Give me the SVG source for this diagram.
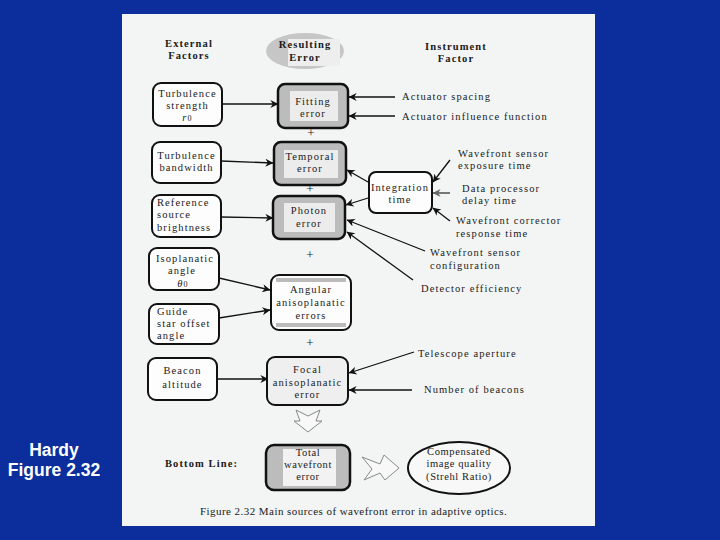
<svg xmlns="http://www.w3.org/2000/svg" width="720" height="540" viewBox="0 0 720 540">
<defs>
<marker id="ah" viewBox="0 0 10 10" refX="9.5" refY="5" markerWidth="9" markerHeight="8" markerUnits="userSpaceOnUse" orient="auto">
<path d="M0,0 L10,5 L0,10 L3,5 Z" fill="#111"/>
</marker>
<marker id="ahg" viewBox="0 0 10 10" refX="9.5" refY="5" markerWidth="9" markerHeight="8" markerUnits="userSpaceOnUse" orient="auto">
<path d="M0,0 L10,5 L0,10 L3,5 Z" fill="#666"/>
</marker>
</defs>
<style>
text{font-family:"Liberation Serif","Times New Roman",serif;fill:#1a1a1a;font-size:10.5px;letter-spacing:1.1px}
.h{font-weight:bold;font-size:10.5px;letter-spacing:1.1px}
.m{text-anchor:middle}
.box{fill:#fdfdfd;stroke:#111;stroke-width:2}
.gbox{fill:#bcbcbc;stroke:#111;stroke-width:2.5}
.inner{fill:#ececec}
.c{stroke:#111;stroke-width:1.3;fill:none;marker-end:url(#ah)}
.hollow{fill:#f8f8f8;stroke:#888;stroke-width:1}
.plus{font-size:13px;letter-spacing:0}
.side{font-family:"Liberation Sans",Arial,sans-serif;font-weight:bold;font-size:17.5px;fill:#fff;letter-spacing:0}
</style>
<rect x="0" y="0" width="720" height="540" fill="#0b2e9c"/>
<rect x="122" y="14" width="473" height="512" fill="#f3f5f5"/>
<g id="side-label">
<text x="54" y="456" class="m side">Hardy</text>
<text x="54" y="476" class="m side">Figure 2.32</text>
</g>
<g id="headers">
<text x="189" y="47" class="h m">External</text>
<text x="189" y="59" class="h m">Factors</text>
<text x="456" y="50" class="h m">Instrument</text>
<text x="456" y="62" class="h m">Factor</text>
</g>
<g id="resulting-error">
<ellipse cx="305" cy="51" rx="39" ry="18" fill="#c6c6c6"/>
<rect x="288" y="39" width="52" height="27" fill="#eeeeee"/>
<text x="305" y="48" class="h m">Resulting</text>
<text x="305" y="61" class="h m">Error</text>
</g>
<g id="connectors">
<line class="c" x1="222" y1="104" x2="278" y2="104"/>
<line class="c" x1="221" y1="161" x2="273" y2="163"/>
<line class="c" x1="221" y1="217" x2="273" y2="218"/>
<line class="c" x1="219" y1="278" x2="270" y2="290"/>
<line class="c" x1="219" y1="318" x2="270" y2="310"/>
<line class="c" x1="217" y1="379" x2="268" y2="379"/>
<line class="c" x1="395" y1="97" x2="349" y2="97"/>
<line class="c" x1="395" y1="116" x2="349" y2="116"/>
<line class="c" x1="450" y1="160" x2="433" y2="182"/>
<line x1="450" y1="193" x2="433" y2="193" stroke="#777" stroke-width="2" marker-end="url(#ahg)"/>
<line class="c" x1="450" y1="221" x2="433" y2="208"/>
<line class="c" x1="368" y1="182" x2="347" y2="170"/>
<line class="c" x1="368" y1="198" x2="346" y2="205"/>
<line class="c" x1="425" y1="251" x2="347" y2="220"/>
<line class="c" x1="413" y1="280" x2="347" y2="232"/>
<line class="c" x1="414" y1="352" x2="349" y2="373"/>
<line class="c" x1="412" y1="390" x2="349" y2="390" stroke-width="2"/>
<path class="hollow" d="M296,410 L308,416 L320,410 L316,421 L322,421 L308,432 L294,421 L300,421 Z"/>
<path class="hollow" d="M362,457 L380,464 L384,455 L399,468 L385,480 L380,473 L364,480 L372,469 Z"/>
</g>
<g id="turbulence-strength">
<rect class="box" x="153" y="83" width="69" height="43" rx="8"/>
<text x="187.5" y="97" class="m">Turbulence</text>
<text x="187.5" y="109" class="m">strength</text>
<text x="187.5" y="121" class="m"><tspan font-style="italic">r</tspan><tspan font-size="8">0</tspan></text>
</g>
<g id="turbulence-bandwidth">
<rect class="box" x="152" y="142" width="69" height="41" rx="8"/>
<text x="186.5" y="159" class="m">Turbulence</text>
<text x="186.5" y="171" class="m">bandwidth</text>
</g>
<g id="reference-brightness">
<rect class="box" x="152" y="195" width="69" height="42" rx="8"/>
<text x="157" y="206">Reference</text>
<text x="157" y="218">source</text>
<text x="157" y="231">brightness</text>
</g>
<g id="isoplanatic-angle">
<rect class="box" x="149" y="248" width="70" height="42" rx="8"/>
<text x="185" y="262" class="m">Isoplanatic</text>
<text x="182" y="274" class="m">angle</text>
<text x="183" y="287" class="m"><tspan font-style="italic">θ</tspan><tspan font-size="8">0</tspan></text>
</g>
<g id="guide-star-offset">
<rect class="box" x="149" y="304" width="70" height="40" rx="8"/>
<text x="157" y="315">Guide</text>
<text x="157" y="327">star offset</text>
<text x="157" y="339">angle</text>
</g>
<g id="beacon-altitude">
<rect class="box" x="148" y="358" width="69" height="42" rx="8"/>
<text x="182.5" y="374" class="m">Beacon</text>
<text x="182.5" y="388" class="m">altitude</text>
</g>
<g id="fitting-error">
<rect class="gbox" x="278" y="84" width="70" height="44" rx="7"/>
<rect class="inner" x="290" y="91" width="48" height="30"/>
<text x="313" y="105" class="m">Fitting</text>
<text x="313" y="117" class="m">error</text>
</g>
<g id="temporal-error">
<rect class="gbox" x="274" y="142" width="72" height="43" rx="7"/>
<rect class="inner" x="284" y="150" width="54" height="28"/>
<text x="310" y="160" class="m">Temporal</text>
<text x="310" y="172" class="m">error</text>
</g>
<g id="photon-error">
<rect class="gbox" x="273" y="196" width="72" height="43" rx="7"/>
<rect class="inner" x="284" y="203" width="51" height="29"/>
<text x="309" y="214" class="m">Photon</text>
<text x="309" y="227" class="m">error</text>
</g>
<g id="angular-error">
<rect class="box" x="271" y="275" width="80" height="55" rx="8" stroke-width="2.5"/>
<rect x="276" y="278" width="70" height="4" fill="#bbb"/>
<rect x="276" y="323" width="70" height="4" fill="#bbb"/>
<text x="311" y="293" class="m">Angular</text>
<text x="311" y="306" class="m">anisoplanatic</text>
<text x="311" y="319" class="m">errors</text>
</g>
<g id="focal-error">
<rect class="box" x="267" y="357" width="81" height="48" rx="8" stroke-width="2.5" style="fill:#efefef"/>
<text x="307.5" y="373" class="m">Focal</text>
<text x="307.5" y="386" class="m">anisoplanatic</text>
<text x="307.5" y="398" class="m">error</text>
</g>
<g id="integration-time">
<rect class="box" x="369" y="172" width="63" height="41" rx="7"/>
<text x="400" y="191" class="m">Integration</text>
<text x="400" y="203" class="m">time</text>
</g>
<g id="total-error">
<rect class="gbox" x="266" y="445" width="84" height="45" rx="8"/>
<rect class="inner" x="283" y="449" width="53" height="37" style="fill:#f2f2f2"/>
<text x="308" y="456" class="m" style="letter-spacing:0.6px">Total</text>
<text x="308" y="468" class="m" style="letter-spacing:0.6px">wavefront</text>
<text x="308" y="480" class="m" style="letter-spacing:0.6px">error</text>
</g>
<g id="compensated-quality">
<ellipse cx="459" cy="468" rx="51" ry="26" fill="#f8f8f8" stroke="#111" stroke-width="2"/>
<text x="459" y="455" class="m" style="letter-spacing:0.6px">Compensated</text>
<text x="459" y="467" class="m" style="letter-spacing:0.6px">image quality</text>
<text x="459" y="480" class="m" style="letter-spacing:0.6px">(Strehl Ratio)</text>
</g>
<g id="instrument-labels">
<text x="402" y="100">Actuator spacing</text>
<text x="402" y="120">Actuator influence function</text>
<text x="458" y="157">Wavefront sensor</text>
<text x="458" y="169">exposure time</text>
<text x="462" y="192">Data processor</text>
<text x="462" y="204">delay time</text>
<text x="456" y="224">Wavefront corrector</text>
<text x="456" y="237">response time</text>
<text x="430" y="256">Wavefront sensor</text>
<text x="430" y="269">configuration</text>
<text x="421" y="292">Detector efficiency</text>
<text x="418" y="357">Telescope aperture</text>
<text x="424" y="393">Number of beacons</text>
</g>
<g id="plus-signs">
<text x="311" y="137" class="m plus">+</text>
<text x="310" y="193" class="m plus">+</text>
<text x="310" y="259" class="m plus">+</text>
<text x="310" y="347" class="m plus">+</text>
</g>
<g id="bottom">
<text x="165" y="467" class="h">Bottom Line:</text>
<text x="200" y="515" style="font-size:11px;letter-spacing:0.45px">Figure 2.32  Main sources of wavefront error in adaptive optics.</text>
</g>
</svg>
